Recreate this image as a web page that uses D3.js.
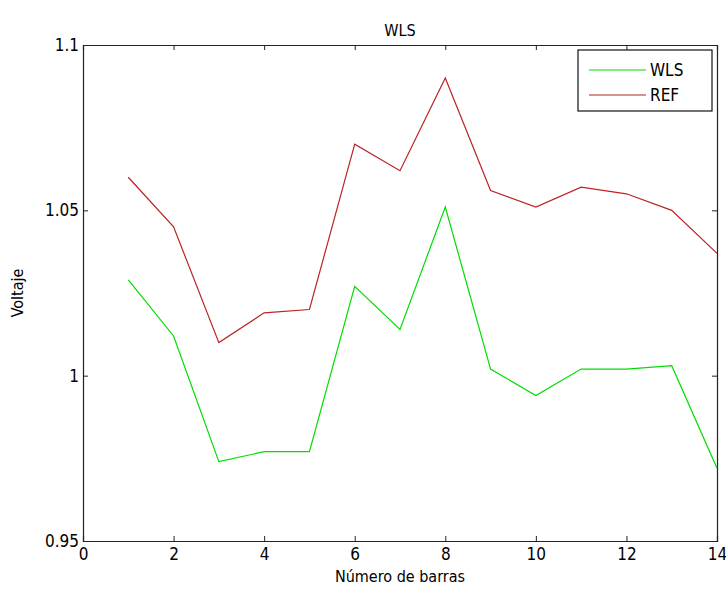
<!DOCTYPE html>
<html><head><meta charset="utf-8">
<script src="https://cdn.jsdelivr.net/npm/d3@7"></script>
<style>body{margin:0;background:#fff;} text{font-family:"Liberation Sans Narrow","DejaVu Sans Condensed",Arial,sans-serif;}</style>
</head><body><svg id="c" width="726" height="590"></svg>
<script>
const barras = [1,2,3,4,5,6,7,8,9,10,11,12,13,14];
const wls = [1.029,1.012,0.974,0.977,0.977,1.027,1.014,1.051,1.002,0.994,1.002,1.002,1.003,0.972];
const ref = [1.060,1.045,1.010,1.019,1.020,1.070,1.062,1.090,1.056,1.051,1.057,1.055,1.050,1.037];
const xTicks = [0,2,4,6,8,10,12,14];
const yTicks = [0.95,1,1.05,1.1];
const yTickLabels = ["0.95","1","1.05","1.1"];
const seriesNames = ["WLS","REF"];
const seriesColors = ["#00dd00","#bb2222"];
const FONT = "'Liberation Sans Narrow','DejaVu Sans Condensed',Arial,sans-serif";

const svg = d3.select("#c");
const L=83,R=717,T=45,B=541;
const x = d3.scaleLinear().domain([0,14]).range([L,R]);
const y = d3.scaleLinear().domain([0.95,1.1]).range([B,T]);

svg.append("rect").attr("x",0).attr("y",0).attr("width",726).attr("height",590).attr("fill","#fff");

const xAxis = svg.append("g").attr("transform",`translate(0,${B})`)
  .call(d3.axisBottom(x).tickValues(xTicks).tickSize(-5).tickPadding(7).tickFormat(d3.format("d")));
const xAxisTop = svg.append("g").attr("transform",`translate(0,${T})`)
  .call(d3.axisTop(x).tickValues(xTicks).tickSize(-5).tickFormat(""));
const yAxis = svg.append("g").attr("transform",`translate(${L},0)`)
  .call(d3.axisLeft(y).tickValues(yTicks).tickSize(-5).tickPadding(4).tickFormat((d,i)=>yTickLabels[i]));
const yAxisR = svg.append("g").attr("transform",`translate(${R},0)`)
  .call(d3.axisRight(y).tickValues(yTicks).tickSize(-5).tickFormat(""));
[xAxis,xAxisTop,yAxis,yAxisR].forEach(g=>{
  g.selectAll("path").attr("stroke","#222").attr("stroke-width",1.2);
  g.selectAll("line").attr("stroke","#222");
  g.selectAll("text").attr("font-size",17).attr("fill","#000").style("font-family",FONT);
});

const line = d3.line().x((d,i)=>x(barras[i])).y(d=>y(d));
[wls,ref].forEach((s,k)=>{
  svg.append("path").datum(s).attr("d",line).attr("fill","none")
    .attr("stroke",seriesColors[k]).attr("stroke-width",1.2);
});

svg.append("text").attr("x",(L+R)/2).attr("y",36).attr("text-anchor","middle")
  .attr("font-size",16).text("WLS");
svg.append("text").attr("x",(L+R)/2).attr("y",582).attr("text-anchor","middle")
  .attr("font-size",16).text("Número de barras");
svg.append("text").attr("transform",`translate(23,${(T+B)/2}) rotate(-90)`).attr("text-anchor","middle")
  .attr("font-size",16).text("Voltaje");

const lg = svg.append("g");
lg.append("rect").attr("x",578).attr("y",50).attr("width",134).attr("height",61)
  .attr("fill","#fff").attr("stroke","#111").attr("stroke-width",1.2);
seriesNames.forEach((n,k)=>{
  const yy = 70 + k*25;
  lg.append("line").attr("x1",589).attr("x2",646).attr("y1",yy).attr("y2",yy)
    .attr("stroke",seriesColors[k]).attr("stroke-width",1.2);
  lg.append("text").attr("x",650).attr("y",yy+6).attr("font-size",17).text(n);
});
</script></body></html>
